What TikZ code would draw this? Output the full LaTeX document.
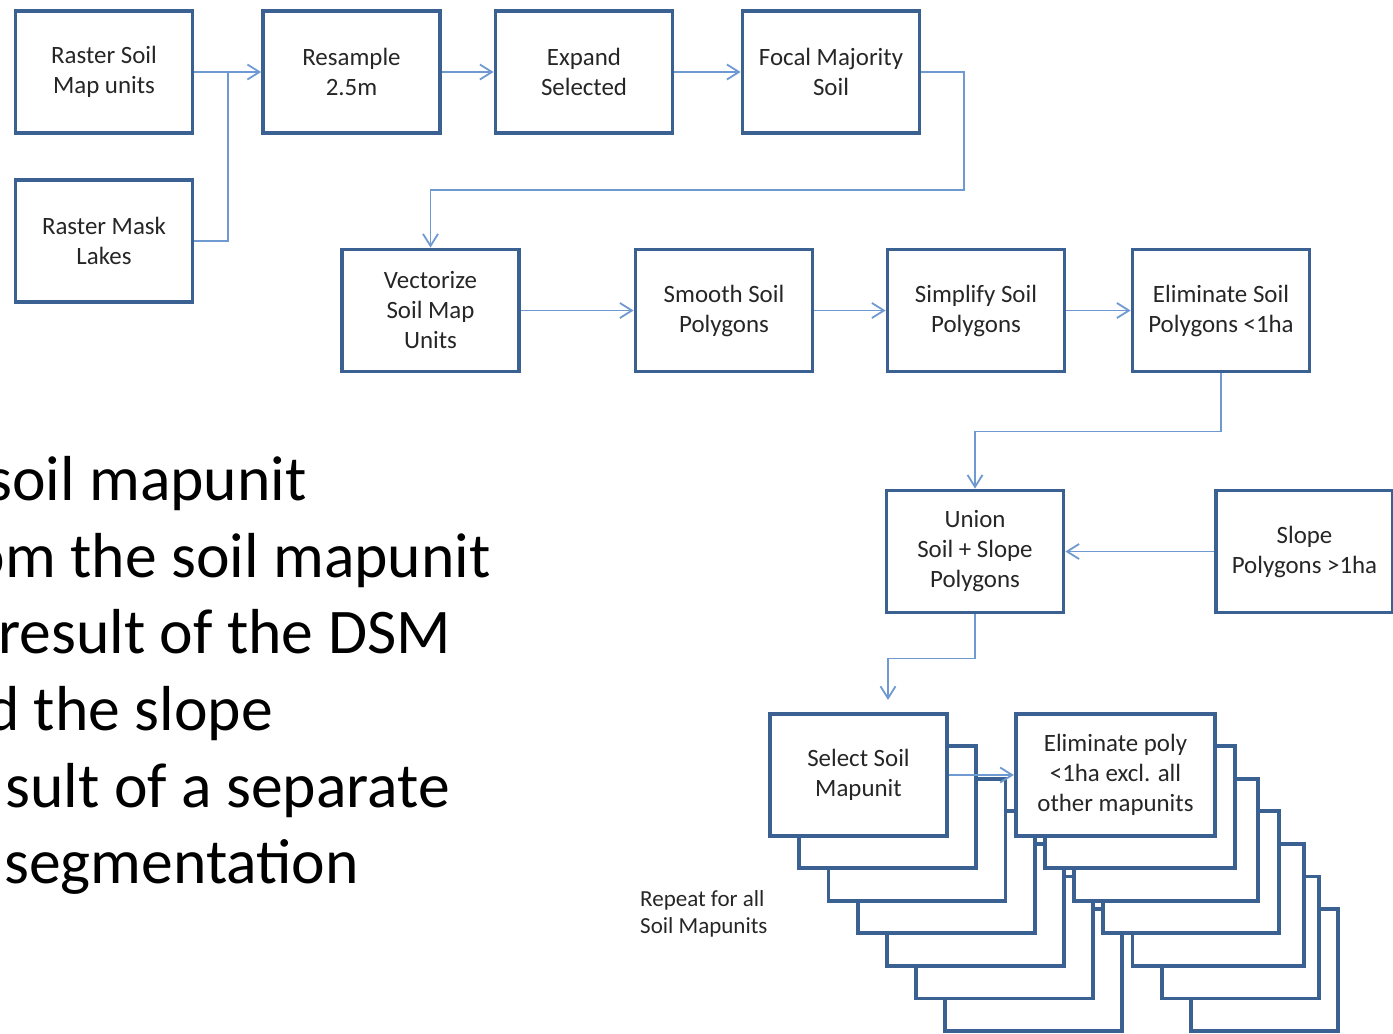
\documentclass[tikz,border=0pt]{standalone}
\usepackage{fontspec}
\setmainfont{Carlito}
\usetikzlibrary{arrows.meta}
\definecolor{boxblue}{HTML}{3B6192}
\definecolor{linkblue}{HTML}{6F99D1}
\begin{document}
\begin{tikzpicture}[x=1pt,y=-1pt,
 box/.style={draw=boxblue,line width=3.8pt,fill=white,inner sep=0pt,minimum width=177pt,minimum height=122pt,align=center,font=\fontsize{24.9}{30}\selectfont,text=black!85},
 back/.style={draw=boxblue,line width=3.8pt,fill=white,inner sep=0pt,minimum height=122pt},
 link/.style={draw=linkblue,line width=1.8pt,-{Straight Barb[length=12pt,width=15pt,line width=1.8pt]}},
 plain/.style={draw=linkblue,line width=1.8pt},
 bigtext/.style={anchor=base east,inner sep=0pt,font=\fontsize{63.6}{75}\selectfont}]
\useasboundingbox (0,0) rectangle (1393,1034);
\clip (0,0) rectangle (1393,1034);

% top flow
\node[box] (rsoil) at (104,72) {Raster Soil\\Map units};
\node[box] (rmask) at (104,241) {Raster Mask\\Lakes};
\node[box] (resamp) at (351.5,72) {Resample\\2.5m};
\node[box] (expand) at (584,72) {Expand\\Selected};
\node[box] (focal) at (831,72) {Focal Majority\\Soil};
\node[box] (vector) at (430.5,310.5) {Vectorize\\Soil Map\\Units};
\node[box] (smooth) at (724,310.5) {Smooth Soil\\Polygons};
\node[box] (simpl) at (976,310.5) {Simplify Soil\\Polygons};
\node[box] (elim) at (1221,310.5) {Eliminate Soil\\Polygons <1ha};
\node[box] (union) at (975,551.5) {Union\\Soil + Slope\\Polygons};
\node[box] (slope) at (1304.5,551.5) {Slope\\Polygons >1ha};

% left stack
\foreach \k in {6,5,4,3,2,1}
  \node[back,minimum width=177pt] (lb\k) at ({858.5+29.2*\k},{774.5+32.6*\k}) {};
\node[box] (select) at (858.5,775) {Select Soil\\Mapunit};

% right stack
\foreach \k/\cx/\w in {6/1264.6/147.3,5/1240.5/157.5,4/1218.4/171.7,3/1191.3/175.9,2/1166.2/184.1,1/1140.1/190.3}
  \node[back,minimum width=\w pt] (rb\k) at (\cx,{774.5+32.6*\k}) {};
\node[box,minimum width=199.5pt] (elpoly) at (1115.5,775) {Eliminate poly\\<1ha excl. all\\other mapunits};

% connectors
\coordinate (j1) at (228,72);
\coordinate (selin) at (888,700);
\draw[link] (rsoil.east) -- (resamp.west);
\draw[plain] (rmask.east) -| (j1);
\draw[link] (resamp.east) -- (expand.west);
\draw[link] (expand.east) -- (focal.west);
\draw[link] (focal.east) -| (964,190) -| (vector.north);
\draw[link] (vector.east) -- (smooth.west);
\draw[link] (smooth.east) -- (simpl.west);
\draw[link] (simpl.east) -- (elim.west);
\draw[link] (elim.south) -- ++(0,58) -| (union.north);
\draw[link] (slope.west) -- (union.east);
\draw[link] (union.south) -- ++(0,44) -| (selin);
\draw[link] (select.east) -- (elpoly.west);

% labels
\node[anchor=west,align=left,inner sep=0pt,font=\fontsize{23}{27}\selectfont,text=black!85] (rep) at (640,913.5) {Repeat for all\\Soil Mapunits};

\node[bigtext] (t1) at (307,500) {soil mapunit};
\node[bigtext] (t2) at (491,577) {om the soil mapunit};
\node[bigtext] (t3) at (451,653) {result of the DSM};
\node[bigtext] (t4) at (273,730) {d the slope};
\node[bigtext] (t5) at (450,807) {sult of a separate};
\node[bigtext] (t6) at (359,883) {segmentation};
\end{tikzpicture}
\end{document}
